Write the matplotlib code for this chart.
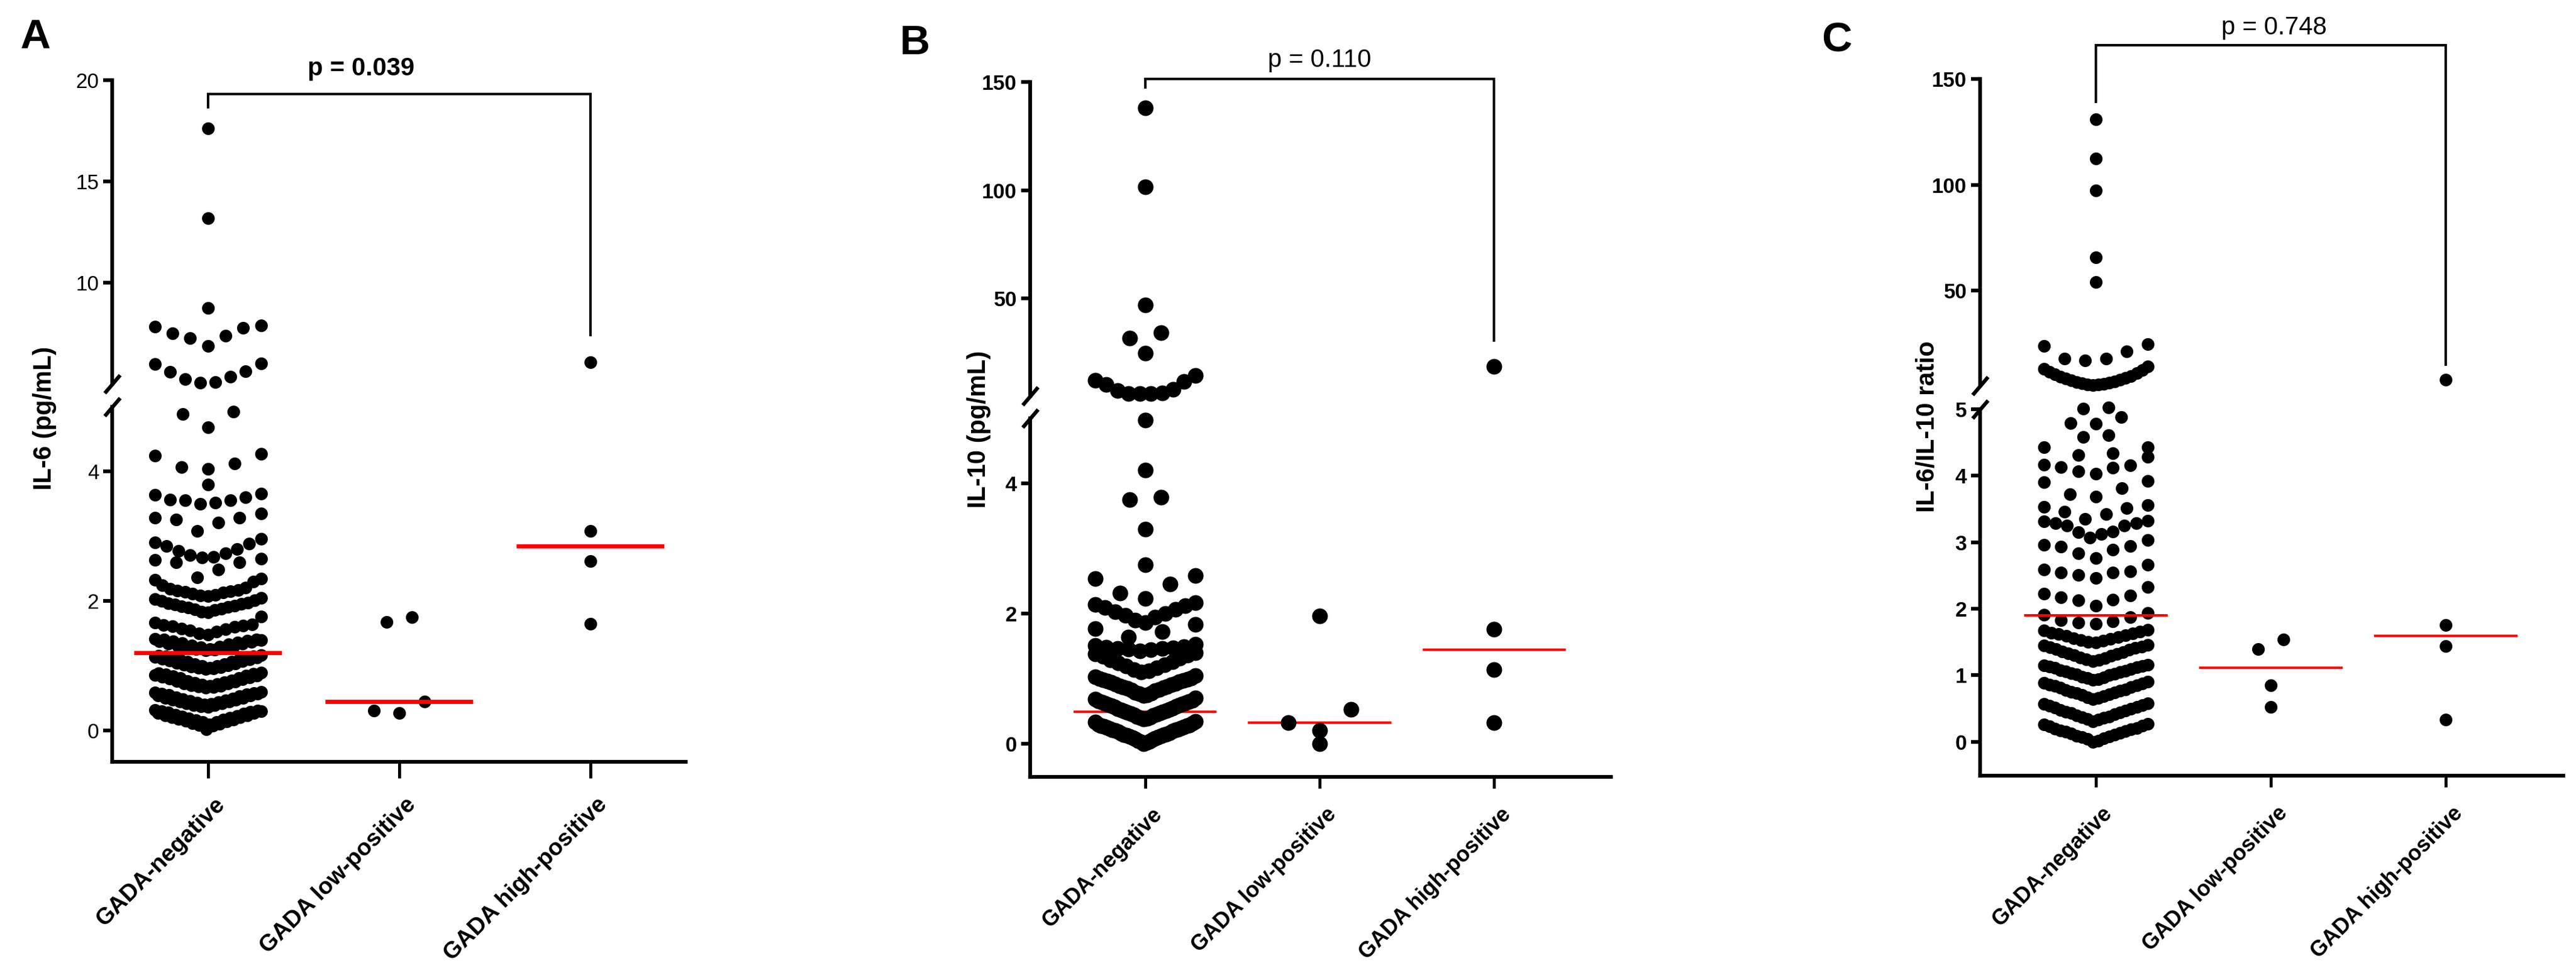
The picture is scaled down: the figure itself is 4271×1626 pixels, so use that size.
import numpy as np
import matplotlib
matplotlib.use("Agg")
import matplotlib.pyplot as plt
from matplotlib.transforms import ScaledTranslation

plt.rcParams['font.family'] = ['Liberation Sans', 'DejaVu Sans']

CATEGORIES = ["GADA-negative", "GADA low-positive", "GADA high-positive"]

# ---------------- Panel A : IL-6 (pg/mL) ----------------
# each inner list = one horizontal row of dots in the scatter
IL6_NEG = [
    [0.02, 0.08, 0.09, 0.10, 0.11, 0.12, 0.13, 0.13, 0.14, 0.15, 0.16, 0.17, 0.17, 0.18, 0.19, 0.20,
     0.21, 0.21, 0.22, 0.23, 0.24, 0.24, 0.25, 0.26, 0.27, 0.27, 0.28, 0.29, 0.30, 0.30, 0.31, 0.32],
    [0.37, 0.38, 0.39, 0.39, 0.40, 0.41, 0.42, 0.42, 0.43, 0.44, 0.45, 0.45, 0.46, 0.47, 0.48, 0.48,
     0.49, 0.50, 0.51, 0.51, 0.52, 0.53, 0.54, 0.54, 0.55, 0.56, 0.57, 0.57, 0.58, 0.59, 0.60],
    [0.66, 0.67, 0.68, 0.69, 0.69, 0.70, 0.71, 0.72, 0.73, 0.73, 0.74, 0.75, 0.76, 0.77, 0.77, 0.78,
     0.79, 0.80, 0.81, 0.81, 0.82, 0.83, 0.84, 0.85, 0.85, 0.86, 0.87, 0.88, 0.89, 0.90],
    [0.95, 0.96, 0.97, 0.97, 0.98, 0.99, 1.00, 1.00, 1.01, 1.02, 1.03, 1.03, 1.04, 1.05, 1.06, 1.06,
     1.07, 1.08, 1.09, 1.09, 1.10, 1.11, 1.12, 1.12, 1.13, 1.14, 1.15, 1.15, 1.16, 1.17],
    [1.24, 1.25, 1.26, 1.26, 1.27, 1.28, 1.29, 1.30, 1.30, 1.31, 1.32, 1.33, 1.34, 1.34, 1.35, 1.36,
     1.37, 1.38, 1.38, 1.39, 1.40, 1.41, 1.41, 1.42],
    [1.48, 1.50, 1.53, 1.55, 1.57, 1.58, 1.60, 1.61, 1.62, 1.63, 1.64, 1.67, 1.76],
    [1.83, 1.84, 1.86, 1.87, 1.88, 1.90, 1.91, 1.92, 1.93, 1.95, 1.96, 1.97, 1.98, 2.00, 2.01, 2.03, 2.05],
    [2.08, 2.09, 2.10, 2.12, 2.13, 2.14, 2.15, 2.16, 2.17, 2.19, 2.21, 2.25, 2.30, 2.33, 2.35],
    [2.37, 2.49, 2.60, 2.60, 2.64, 2.66],
    [2.67, 2.68, 2.71, 2.74, 2.78, 2.80, 2.85, 2.89, 2.91, 2.96],
    [3.08, 3.21, 3.26, 3.29, 3.29, 3.35],
    [3.50, 3.52, 3.56, 3.56, 3.57, 3.60, 3.64, 3.66],
    [3.80],
    [4.04, 4.07, 4.13, 4.25, 4.27],
    [4.68, 4.89, 4.93],
    [5.06, 5.08, 5.24, 5.36, 5.60, 5.62, 5.98, 6.00],
    [6.87, 7.26, 7.38, 7.51, 7.77, 7.83, 7.89],
    [8.75],
    [13.17],
    [17.63],
]
IL6_LOW = [[0.27, 0.31, 0.45], [1.68, 1.75]]
IL6_HIGH = [[1.65], [2.62], [3.08], [6.07]]
IL6_MEDIANS = [1.20, 0.45, 2.85]
IL6_P = "p = 0.039"

# ---------------- Panel B : IL-10 (pg/mL) ----------------
IL10_NEG = [
    [0.00, 0.02, 0.03, 0.04, 0.05, 0.06, 0.07, 0.08, 0.09, 0.10, 0.11, 0.12, 0.13, 0.14, 0.14, 0.15,
     0.16, 0.17, 0.18, 0.19, 0.20, 0.21, 0.21, 0.22, 0.23, 0.24, 0.25, 0.26, 0.27, 0.28, 0.28, 0.29,
     0.30, 0.31, 0.33, 0.34],
    [0.38, 0.39, 0.40, 0.41, 0.42, 0.43, 0.44, 0.45, 0.46, 0.47, 0.48, 0.49, 0.50, 0.51, 0.52, 0.53,
     0.54, 0.55, 0.56, 0.57, 0.58, 0.59, 0.60, 0.61, 0.62, 0.63, 0.64, 0.65, 0.66, 0.67, 0.68, 0.70],
    [0.74, 0.75, 0.77, 0.78, 0.79, 0.81, 0.82, 0.83, 0.85, 0.86, 0.87, 0.88, 0.89, 0.91, 0.92, 0.93,
     0.94, 0.95, 0.96, 0.97, 0.98, 0.99, 1.00, 1.01, 1.03, 1.05],
    [1.10, 1.12, 1.14, 1.17, 1.19, 1.21, 1.24, 1.26, 1.29, 1.31, 1.34, 1.36, 1.38, 1.40],
    [1.43, 1.44, 1.45, 1.46, 1.46, 1.47, 1.48, 1.49, 1.51, 1.53],
    [1.64, 1.72, 1.77, 1.83],
    [1.86, 1.90, 1.94, 1.97, 2.00, 2.03, 2.06, 2.09, 2.12, 2.14, 2.17],
    [2.23, 2.31, 2.45, 2.54, 2.58],
    [2.75],
    [3.30],
    [3.75, 3.79],
    [4.20],
    [4.97],
    [6.0, 6.0, 6.2, 6.4, 7.4, 8.0, 10.4, 11.6, 12.2, 14.4],
    [24.7],
    [31.6, 34.1],
    [47.0],
    [101.5],
    [138.0],
]
IL10_LOW = [[0.00], [0.20, 0.32, 0.53], [1.96]]
IL10_HIGH = [[0.32], [1.14], [1.76], [18.5]]
IL10_MEDIANS = [0.49, 0.32, 1.44]
IL10_P = "p = 0.110"

# ---------------- Panel C : IL-6/IL-10 ratio ----------------
RATIO_NEG = [
    [0.00, 0.02, 0.04, 0.05, 0.07, 0.08, 0.09, 0.11, 0.12, 0.13, 0.15, 0.16, 0.17, 0.19, 0.20, 0.21,
     0.23, 0.24, 0.26, 0.27],
    [0.31, 0.33, 0.34, 0.36, 0.37, 0.38, 0.40, 0.41, 0.43, 0.44, 0.45, 0.47, 0.48, 0.50, 0.51, 0.52,
     0.54, 0.55, 0.57, 0.58],
    [0.64, 0.66, 0.67, 0.69, 0.70, 0.71, 0.73, 0.74, 0.75, 0.77, 0.78, 0.79, 0.81, 0.82, 0.84, 0.85,
     0.86, 0.88, 0.89, 0.90],
    [0.93, 0.94, 0.96, 0.97, 0.98, 1.00, 1.01, 1.02, 1.03, 1.05, 1.06, 1.07, 1.08, 1.09, 1.11, 1.12,
     1.13, 1.14, 1.15, 1.16],
    [1.21, 1.23, 1.24, 1.26, 1.27, 1.29, 1.30, 1.32, 1.33, 1.35, 1.36, 1.38, 1.39, 1.41, 1.42, 1.43,
     1.45, 1.46],
    [1.49, 1.50, 1.52, 1.53, 1.55, 1.56, 1.57, 1.59, 1.60, 1.62, 1.63, 1.64, 1.66, 1.67, 1.68],
    [1.77, 1.79, 1.81, 1.83, 1.87, 1.91, 1.94],
    [2.05, 2.13, 2.14, 2.17, 2.20, 2.23, 2.33],
    [2.46, 2.51, 2.54, 2.54, 2.56, 2.59, 2.66],
    [2.76, 2.83, 2.89, 2.93, 2.94, 2.96, 3.03],
    [3.07, 3.12, 3.15, 3.16, 3.25, 3.25, 3.29, 3.29, 3.31, 3.32],
    [3.35, 3.42, 3.46, 3.51, 3.53, 3.56],
    [3.69, 3.72, 3.81, 3.90, 3.92],
    [4.03, 4.07, 4.12, 4.13, 4.16, 4.17, 4.28],
    [4.31, 4.34, 4.43, 4.43],
    [4.58, 4.61],
    [4.78, 4.79, 4.88],
    [5.01, 5.03],
    [5.3, 5.5, 5.7, 5.9, 6.2, 6.5, 6.8, 7.1, 7.5, 7.9, 8.3, 8.7, 9.2, 9.7, 10.3, 10.9, 11.6, 12.3,
     13.1, 14.0],
    [16.9, 17.9, 17.9, 21.3, 23.8, 24.7],
    [54.0],
    [65.8],
    [97.3],
    [112.5],
    [130.9],
]
RATIO_LOW = [[0.52], [0.85], [1.39, 1.54]]
RATIO_HIGH = [[0.33], [1.44], [1.76], [7.8]]
RATIO_MEDIANS = [1.90, 1.11, 1.59]
RATIO_P = "p = 0.748"

# ---------------- layout ----------------
FIG_W, FIG_H, DPI = 4271, 1626, 100
PT = 72.0 / DPI  # points per pixel

fig = plt.figure(figsize=(FIG_W / DPI, FIG_H / DPI), dpi=DPI)


def box(l, t, r, b):
    return [l / FIG_W, 1 - b / FIG_H, (r - l) / FIG_W, (b - t) / FIG_H]


PANELS = [
    dict(letter="A", letter_xy=(33, 30), ylabel="IL-6 (pg/mL)", ylabel_xy=(74, 694),
         xpx=(186, 1137), upper=(133, 637), lower=(675, 1264),
         xlim=(-0.5, 2.5), up_lim=(5, 20), lo_lim=(-0.48, 5),
         up_ticks=[10, 15, 20], lo_ticks=[0, 2, 4], brk=5.0, xtick_len=27, xlab_fs=28,
         tick_weight='normal', p_weight='bold', dot_px=21, half_px=88, lag=3, lag_n=18,
         med_half=0.385, med_lw=5.0, med_front=True,
         groups=(IL6_NEG, IL6_LOW, IL6_HIGH), medians=IL6_MEDIANS, p=IL6_P,
         bracket=(19.32, 18.6, 7.35), p_xy=(0.80, 20.24)),
    dict(letter="B", letter_xy=(1491, 40), ylabel="IL-10 (pg/mL)", ylabel_xy=(1623, 712),
         xpx=(1708, 2671), upper=(136, 657), lower=(694, 1289),
         xlim=(-0.66, 2.67), up_lim=(5, 150), lo_lim=(-0.51, 5),
         up_ticks=[50, 100, 150], lo_ticks=[0, 2, 4], brk=5.0, xtick_len=19, xlab_fs=26,
         tick_weight='bold', p_weight='normal', dot_px=26, half_px=83, lag=0, lag_n=999,
         med_half=0.41, med_lw=3.0, med_front=False,
         groups=(IL10_NEG, IL10_LOW, IL10_HIGH), medians=IL10_MEDIANS, p=IL10_P,
         bracket=(151.4, 147.0, 30.0), p_xy=(1.0, 157.0)),
    dict(letter="C", letter_xy=(3020, 35), ylabel="IL-6/IL-10 ratio", ylabel_xy=(3196, 708),
         xpx=(3283, 4250), upper=(131, 640), lower=(679, 1287),
         xlim=(-0.66, 2.67), up_lim=(5, 150), lo_lim=(-0.51, 5),
         up_ticks=[50, 100, 150], lo_ticks=[0, 1, 2, 3, 4, 5], brk=5.2, xtick_len=19, xlab_fs=26,
         tick_weight='bold', p_weight='normal', dot_px=21, half_px=86, lag=0, lag_n=999,
         med_half=0.41, med_lw=3.0, med_front=True,
         groups=(RATIO_NEG, RATIO_LOW, RATIO_HIGH), medians=RATIO_MEDIANS, p=RATIO_P,
         bracket=(166.0, 138.6, 14.4), p_xy=(1.02, 171.0)),
]

SPINE_LW = 4.5
TICK_FS = 25
LABEL_FS = 30
P_FS = 30
LETTER_FS = 50


def row_offsets(n, half_px, dot_px, lag=0):
    """x offsets (px) for the sorted values of one row: small values in the middle, larger outward.
    With lag > 0 every other slot is filled later, which thickens dense chevrons."""
    if n == 1:
        return np.zeros(1)
    step = 2 * dot_px if n <= 3 else 2.0 * half_px / (n - 1)
    step = min(step, 2.0 * half_px / (n - 1))
    c = (n - 1) / 2.0
    par = int(np.floor(c)) % 2

    def prio(p):
        return abs(p - c) + (lag if p % 2 != par else 0)

    order = sorted(range(n), key=lambda p: (prio(p), p > c))
    return np.array([(p - c) * step for p in order])


def style_axis(ax, weight, ticks, lim):
    ax.set_ylim(*lim)
    ax.set_yticks(ticks)
    ax.set_yticklabels([str(t) for t in ticks], fontsize=TICK_FS, fontweight=weight)
    ax.spines['left'].set_linewidth(SPINE_LW)
    for s in ('top', 'right'):
        ax.spines[s].set_visible(False)
    ax.tick_params(axis='y', length=15 * PT, width=SPINE_LW, pad=7 * PT, direction='out')
    ax.set_facecolor('none')


for P in PANELS:
    l, r = P['xpx']
    ax_up = fig.add_axes(box(l, P['upper'][0], r, P['upper'][1]))
    ax_lo = fig.add_axes(box(l, P['lower'][0], r, P['lower'][1]))
    for ax in (ax_up, ax_lo):
        ax.set_xlim(*P['xlim'])
    style_axis(ax_up, P['tick_weight'], P['up_ticks'], P['up_lim'])
    style_axis(ax_lo, P['tick_weight'], P['lo_ticks'], P['lo_lim'])

    ax_up.spines['bottom'].set_visible(False)
    ax_up.set_xticks([])
    ax_lo.spines['bottom'].set_linewidth(SPINE_LW)
    ax_lo.set_xticks(range(len(CATEGORIES)))
    ax_lo.set_xticklabels(CATEGORIES, rotation=45, ha='right', va='top',
                          rotation_mode='anchor', fontsize=P['xlab_fs'], fontweight='bold')
    ax_lo.tick_params(axis='x', length=P['xtick_len'] * PT, width=SPINE_LW * 0.8, pad=26 * PT)
    shift = ScaledTranslation(10 / DPI, 0, fig.dpi_scale_trans)
    for lab in ax_lo.get_xticklabels():
        lab.set_transform(lab.get_transform() + shift)

    # axis break marks
    for ax, yy in ((ax_up, 0.0), (ax_lo, 1.0)):
        ax.plot([0], [yy], transform=ax.transAxes, marker=[(-0.85, -1), (0.85, 1)],
                markersize=30 * PT, mew=SPINE_LW, color='black', clip_on=False, zorder=5)

    ppu = (r - l) / (P['xlim'][1] - P['xlim'][0])  # px per category unit
    s = (P['dot_px'] * PT) ** 2
    for ci, rows in enumerate(P['groups']):
        for row in rows:
            vals = np.sort(np.asarray(row, dtype=float))
            lag = P['lag'] if (ci == 0 and len(vals) >= P['lag_n']) else 0
            offs = row_offsets(len(vals), P['half_px'], P['dot_px'], lag) / ppu
            ax = ax_up if vals.min() >= P['brk'] else ax_lo
            ax.scatter(ci + offs, vals, s=s, c='black', linewidths=0, clip_on=False, zorder=3)

    mz = 4 if P['med_front'] else 2
    for ci, m in enumerate(P['medians']):
        ax_lo.plot([ci - P['med_half'], ci + P['med_half']], [m, m], color='#ff0000',
                   lw=P['med_lw'], solid_capstyle='butt', zorder=mz, clip_on=False)

    top, lb, rb = P['bracket']
    ax_up.plot([0, 0, 2, 2], [lb, top, top, rb], color='black', lw=3.0, clip_on=False,
               solid_joinstyle='miter', solid_capstyle='butt', zorder=4)
    ax_up.text(P['p_xy'][0], P['p_xy'][1], P['p'], ha='center', va='baseline', fontsize=P_FS,
               fontweight=P['p_weight'], clip_on=False)

    fig.text(P['ylabel_xy'][0] / FIG_W, 1 - P['ylabel_xy'][1] / FIG_H, P['ylabel'], rotation=90,
             ha='center', va='center', fontsize=LABEL_FS, fontweight='bold')
    fig.text(P['letter_xy'][0] / FIG_W, 1 - P['letter_xy'][1] / FIG_H, P['letter'],
             ha='left', va='top', fontsize=LETTER_FS, fontweight='bold')

fig.savefig("out.png", dpi=DPI, facecolor='white')
